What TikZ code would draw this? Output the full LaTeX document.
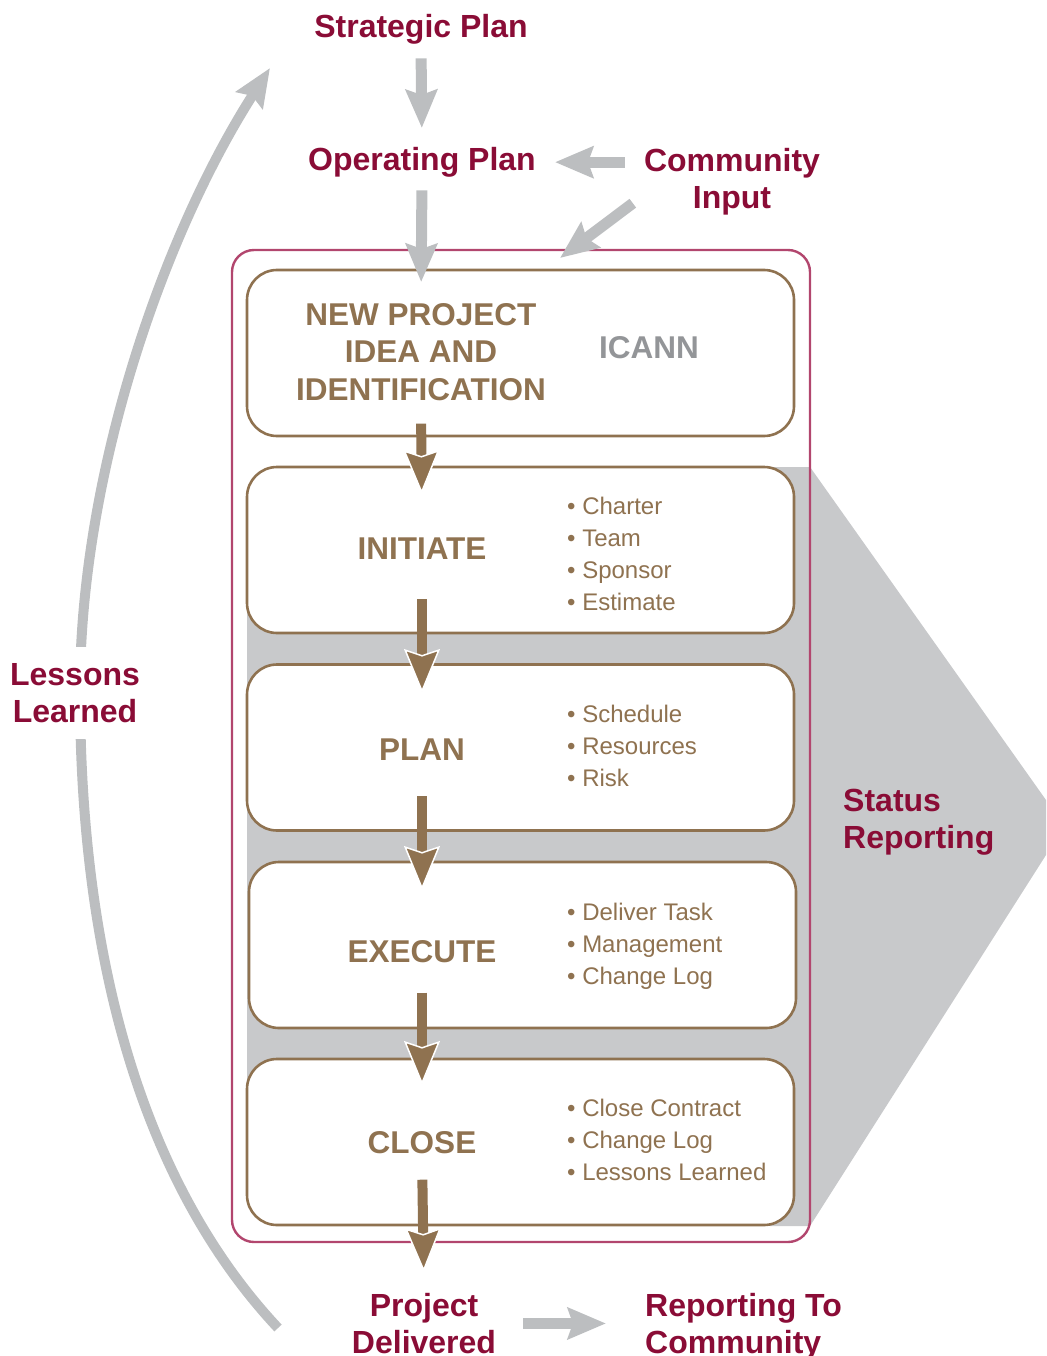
\documentclass[tikz,border=0pt]{standalone}
\usepackage{fontspec}
\setmainfont{Liberation Sans}
\usetikzlibrary{arrows.meta}

\definecolor{crimson}{RGB}{138,12,54}
\definecolor{bronze}{RGB}{143,114,80}
\definecolor{frameline}{RGB}{178,70,110}
\definecolor{arrowgray}{RGB}{188,190,192}
\definecolor{bandgray}{RGB}{200,201,203}
\definecolor{icanngray}{RGB}{147,149,152}

\tikzset{
  heading/.style={inner sep=0pt, anchor=north, align=center, text=crimson, font=\fontsize{32}{37}\selectfont\bfseries},
  stagebox/.style={draw=bronze, line width=2.6pt, fill=white, rounded corners=30pt, minimum width=547pt, minimum height=166pt},
  stagename/.style={inner sep=0pt, anchor=north, align=center, text=bronze, font=\fontsize{31.5}{37.5}\selectfont\bfseries},
  tasklist/.style={inner sep=0pt, anchor=north west, align=left, text=bronze, font=\fontsize{24}{32}\selectfont},
  grayarrow/.style={draw=arrowgray, line width=11pt, -{Stealth[length=38pt, width=31pt, inset=5pt]}},
  brownarrow/.style={draw=bronze, line width=10pt, -{Stealth[length=44pt, width=36pt, inset=6pt, line width=1.5pt, color=white, fill=bronze]}}
}

\begin{document}
\begin{tikzpicture}[x=1pt, y=-1pt]
\useasboundingbox (0,0) rectangle (1046,1356);

% status reporting band
\fill[bandgray] (247,603) -- (770,603) -- (770,467) -- (810,467) -- (1046,800) -- (1046,855)
  -- (810,1226) -- (770,1226) -- (770,1195) -- (247,1195) -- cycle;
\node[heading, anchor=north west, align=left] (status) at (843,789) {Status\\Reporting};

% project frame
\draw[frameline, line width=2.4pt, rounded corners=22pt] (232,250) rectangle (810,1242);

% stages
\node[stagebox] (idea) at (520.5,353) {};
\node[stagebox] (init) at (520.5,550) {};
\node[stagebox] (plan) at (520.5,747.5) {};
\node[stagebox] (exec) at (522.5,945) {};
\node[stagebox] (close) at (520.5,1142) {};

\node[stagename] (ideaT) at (421,303) {NEW PROJECT\\IDEA AND\\IDENTIFICATION};
\node[stagename, text=icanngray] (icann) at (649,336) {ICANN};
\node[stagename] (initT) at (422,538) {INITIATE};
\node[stagename] (planT) at (422,739) {PLAN};
\node[stagename] (execT) at (422,940) {EXECUTE};
\node[stagename] (closeT) at (422,1131) {CLOSE};

\node[tasklist] (initL) at (567,497) {• Charter\\• Team\\• Sponsor\\• Estimate};
\node[tasklist] (planL) at (567,704.5) {• Schedule\\• Resources\\• Risk};
\node[tasklist] (execL) at (567,902.5) {• Deliver Task\\• Management\\• Change Log};
\node[tasklist] (closeL) at (567,1098.5) {• Close Contract\\• Change Log\\• Lessons Learned};

% inputs and outputs
\node[heading] (strat) at (421,14) {Strategic Plan};
\node[heading] (oper) at (422,147) {Operating Plan};
\node[heading] (comm) at (732,148) {Community\\Input};
\node[heading] (proj) at (424,1293) {Project\\Delivered};
\node[heading, anchor=north west, align=left] (report) at (645,1293) {Reporting To\\Community};

\coordinate (inlet) at (560,258);
\coordinate (loopStart) at (278,1328);
\coordinate (loopEnd) at (270,68);

\draw[grayarrow, shorten <=14pt, shorten >=19pt] (strat.south) -- (oper.north);
\draw[grayarrow, shorten <=13pt, shorten >=21pt] (oper.south) -- (ideaT.north);
\draw[grayarrow, shorten <=19pt, shorten >=19pt] (oper.east -| comm.west) -- (oper.east);
\draw[grayarrow] ([shift={(-11,-12)}]comm.south west) -- (inlet);
\draw[grayarrow, shorten <=27pt, shorten >=39pt] (proj.east) -- (proj.east -| report.west);

% lessons learned loop
\draw[grayarrow, line width=10pt] (loopStart) .. controls (130,1170) and (80,930) .. (80,690)
  .. controls (80,480) and (160,240) .. (loopEnd);
\node[heading, fill=white, inner ysep=16pt] (lessons) at (75,647) {Lessons\\Learned};

\foreach \from/\to/\s/\e in {ideaT/initT/23/44, initT/planT/39/46, planT/execT/35/50,
  execT/closeT/30/46, closeT/proj/26/21}
  \draw[brownarrow, shorten <=\s pt, shorten >=\e pt] (\from.south) -- (\to.north);
\end{tikzpicture}
\end{document}
